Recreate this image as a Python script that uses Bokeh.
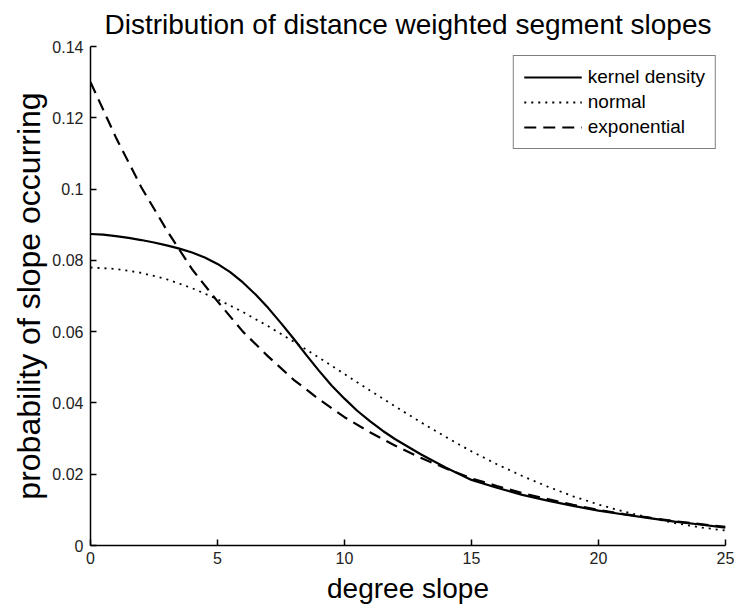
from bokeh.plotting import figure
from bokeh.models import FixedTicker, Range1d, Legend, LegendItem
from bokeh.embed import file_html
from bokeh.resources import INLINE

# ---- data ----
kernel_x = [0, 0.5, 1, 1.5, 2, 2.5, 3, 3.5, 4, 4.5, 5, 5.5, 6, 6.5, 7, 7.5, 8, 8.5, 9, 9.5,
            10, 10.5, 11, 11.5, 12, 13, 14, 15, 16, 17, 18, 19, 20, 21, 22, 23, 24, 25]
kernel_density = [0.0874, 0.0872, 0.0868, 0.0863, 0.0857, 0.0850, 0.0842, 0.0833, 0.0822, 0.0808,
                  0.0790, 0.0767, 0.0738, 0.0704, 0.0666, 0.0624, 0.0580, 0.0534, 0.0490, 0.0448,
                  0.0412, 0.0378, 0.0349, 0.0322, 0.0298, 0.0256, 0.0218, 0.0184, 0.0162, 0.0142,
                  0.0126, 0.0111, 0.0098, 0.0087, 0.0077, 0.0067, 0.0059, 0.0050]
slope_deg = [0, 1, 2, 3, 4, 5, 6, 7, 8, 9, 10, 11, 12, 13, 14, 15, 16, 17, 18, 19, 20, 21, 22, 23, 24, 25]
normal_fit = [0.0780, 0.0776, 0.0765, 0.0747, 0.0722, 0.0691, 0.0655, 0.0615, 0.0572, 0.0527,
              0.0481, 0.0435, 0.0390, 0.0346, 0.0304, 0.0264, 0.0228, 0.0195, 0.0165, 0.0138,
              0.0115, 0.0095, 0.0078, 0.0063, 0.0051, 0.0042]
exponential_fit = [0.1300, 0.1145, 0.1005, 0.0885, 0.0775, 0.0685, 0.0600, 0.0530, 0.0465, 0.0410,
                   0.0360, 0.0318, 0.0280, 0.0246, 0.0216, 0.0188, 0.0167, 0.0147, 0.0130, 0.0114,
                   0.0100, 0.0088, 0.0078, 0.0068, 0.0060, 0.0052]
series_names = ["kernel density", "normal", "exponential"]
x_ticks = [0, 5, 10, 15, 20, 25]
y_ticks = [0, 0.02, 0.04, 0.06, 0.08, 0.10, 0.12, 0.14]
y_tick_labels = ["0", "0.02", "0.04", "0.06", "0.08", "0.1", "0.12", "0.14"]

FONT = "Liberation Sans"

p = figure(width=734, height=606, output_backend="svg", toolbar_location=None,
           x_range=Range1d(0, 25), y_range=Range1d(0, 0.14),
           min_border_left=90, min_border_right=9, min_border_top=45, min_border_bottom=61,
           title="Distribution of distance weighted segment slopes")

p.background_fill_color = "white"
p.border_fill_color = "white"
p.outline_line_color = None
p.xgrid.visible = False
p.ygrid.visible = False

p.title.text_font = FONT
p.title.text_font_size = "28px"
p.title.text_font_style = "normal"
p.title.align = "center"
p.title.standoff = 13
p.title.text_color = "black"

for ax in (p.xaxis[0], p.yaxis[0]):
    ax.axis_line_color = "black"
    ax.axis_line_width = 1.5
    ax.major_tick_line_color = "black"
    ax.major_tick_line_width = 1.5
    ax.major_tick_in = 6
    ax.major_tick_out = 0
    ax.minor_tick_line_color = None
    ax.major_label_text_font = FONT
    ax.major_label_text_font_size = "16px"
    ax.major_label_text_color = "#222222"
    ax.axis_label_text_font = FONT
    ax.axis_label_text_font_style = "normal"
    ax.axis_label_text_color = "black"

p.xaxis[0].ticker = FixedTicker(ticks=x_ticks)
p.yaxis[0].ticker = FixedTicker(ticks=y_ticks)
p.yaxis[0].major_label_overrides = {t: s for t, s in zip(y_ticks, y_tick_labels)}
p.xaxis[0].axis_label = "degree slope"
p.yaxis[0].axis_label = "probability of slope occurring"
p.xaxis[0].axis_label_text_font_size = "28px"
p.yaxis[0].axis_label_text_font_size = "32px"
p.xaxis[0].major_label_standoff = 6
p.xaxis[0].axis_label_standoff = 6
p.yaxis[0].major_label_standoff = 7
p.yaxis[0].axis_label_standoff = 2

r_kernel = p.line(kernel_x, kernel_density, line_color="black", line_width=2.2)
r_normal = p.line(slope_deg, normal_fit, line_color="black", line_width=1.8, line_dash="2 5")
r_expo = p.line(slope_deg, exponential_fit, line_color="black", line_width=2.2, line_dash="12 7")

legend = Legend(items=[LegendItem(label=series_names[0], renderers=[r_kernel]),
                       LegendItem(label=series_names[1], renderers=[r_normal]),
                       LegendItem(label=series_names[2], renderers=[r_expo])],
                location="top_right")
legend.margin = 9
legend.padding = 10
legend.spacing = 3
legend.glyph_width = 58
legend.glyph_height = 20
legend.label_standoff = 6
legend.label_text_font = FONT
legend.label_text_font_size = "19px"
legend.label_text_color = "black"
legend.border_line_color = "black"
legend.border_line_width = 1
legend.background_fill_color = "white"
legend.background_fill_alpha = 1
p.add_layout(legend)

open("out.html", "w").write(file_html(p, INLINE))
